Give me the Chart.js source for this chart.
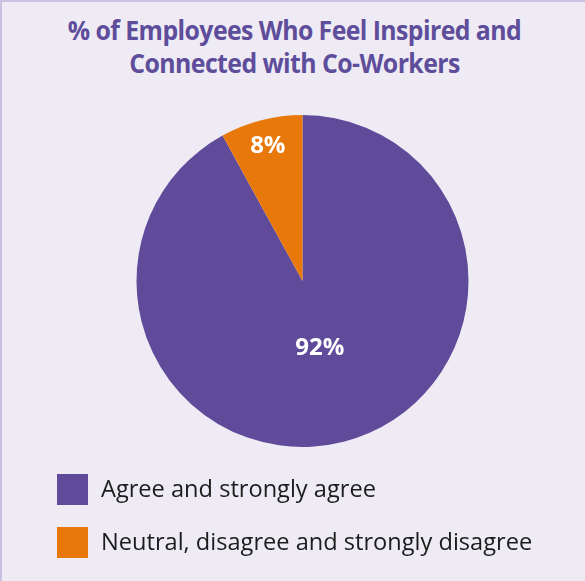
<!DOCTYPE html>
<html>
<head>
<meta charset="utf-8">
<script src="https://cdn.jsdelivr.net/npm/chart.js@4/dist/chart.umd.min.js"></script>
<style>
  html, body { margin: 0; padding: 0; }
  body { width: 585px; height: 581px; overflow: hidden; }
  #frame {
    position: relative; width: 583px; height: 579px;
    background: #EEEBF4;
    border-top: 2px solid #CBC2E2; border-left: 2px solid #CBC2E2;
  }
  #title {
    position: absolute; left: 0; top: 12px; width: 585px;
    text-align: center; color: #5E4D9B;
    font-family: "Open Sans", sans-serif; font-weight: 700;
    font-size: 26px; line-height: 33px; letter-spacing: -0.6px;
    transform: scaleX(0.955); transform-origin: 50% 0;
  }
  #pie { position: absolute; left: -2px; top: -2px; }
  #legend { position: absolute; left: 55px; top: 472px; }
  .item { position: relative; height: 53px; }
  .swatch { position: absolute; left: 0; top: 0; width: 31px; height: 31px; }
  .label {
    position: absolute; left: 44px; top: -3px; white-space: nowrap;
    font-family: "Open Sans", sans-serif; font-size: 23.6px; color: #1C1C1C;
    line-height: 34px;
  }
</style>
</head>
<body>
<div id="frame">
  <div id="title">% of Employees Who Feel Inspired and<br>Connected with Co-Workers</div>
  <canvas id="pie" width="585" height="581"></canvas>
  <div id="legend"></div>
</div>
<script>
// Survey response shares (percent)
const categories = ['Agree and strongly agree', 'Neutral, disagree and strongly disagree'];
const shares = [92, 8];
const valueLabels = ['92%', '8%'];

const sliceColors = ['#5F4B9A', '#E8780A'];
// how far out from the centre each value label sits, as a fraction of the radius
const labelRadius = [0.42, 0.84];

// legend
const legend = document.getElementById('legend');
categories.forEach((name, i) => {
  const row = document.createElement('div');
  row.className = 'item';
  row.innerHTML = '<div class="swatch" style="background:' + sliceColors[i] + '"></div>' +
                  '<div class="label"></div>';
  row.querySelector('.label').textContent = name;
  legend.appendChild(row);
});

const sliceLabels = {
  id: 'sliceLabels',
  afterDatasetsDraw(chart) {
    const ctx = chart.ctx;
    const meta = chart.getDatasetMeta(0);
    ctx.save();
    ctx.fillStyle = '#FFFFFF';
    ctx.font = '700 24px "Open Sans", sans-serif';
    ctx.textAlign = 'center';
    ctx.textBaseline = 'middle';
    meta.data.forEach((arc, i) => {
      const p = arc.getProps(['x', 'y', 'startAngle', 'endAngle', 'outerRadius'], true);
      const mid = (p.startAngle + p.endAngle) / 2;
      const r = p.outerRadius * labelRadius[i];
      ctx.fillText(valueLabels[i], p.x + Math.cos(mid) * r, p.y + Math.sin(mid) * r);
    });
    ctx.restore();
  }
};

new Chart(document.getElementById('pie'), {
  type: 'pie',
  data: {
    labels: categories,
    datasets: [{
      data: shares,
      backgroundColor: sliceColors,
      borderWidth: 0
    }]
  },
  options: {
    responsive: false,
    animation: false,
    events: [],
    layout: { padding: { left: 136, right: 116, top: 115, bottom: 134 } },
    plugins: { legend: { display: false }, tooltip: { enabled: false } }
  },
  plugins: [sliceLabels]
});
</script>
</body>
</html>
